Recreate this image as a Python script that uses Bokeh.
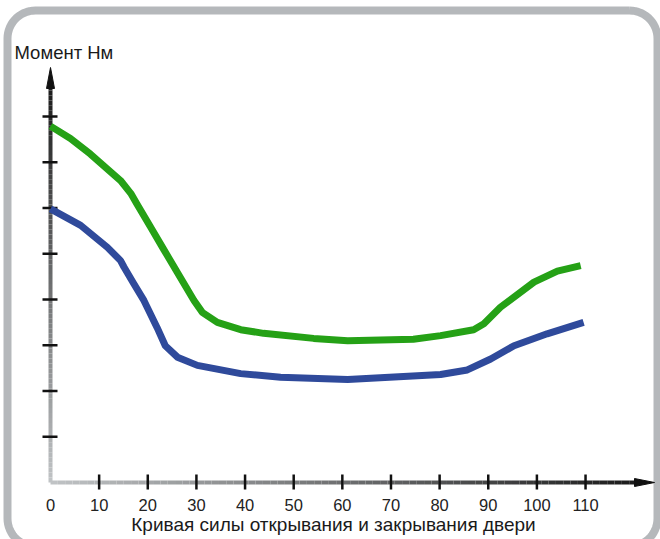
import numpy as np
from bokeh.plotting import figure
from bokeh.models import Range1d
from bokeh.embed import file_html
from bokeh.resources import INLINE
from bokeh.core.properties import value

# ---------------- data ----------------
opening_angle = [0, 4.1, 8.2, 14.4, 16.5, 17.8, 20.6, 23.3, 29.5, 31.2, 34.3, 39.1,
                 43.8, 54.1, 61.1, 74.6, 80.2, 87.0, 89.1, 92.5, 99.4, 104.2, 109.0]
opening_moment = [7.79, 7.52, 7.18, 6.60, 6.32, 6.08, 5.58, 5.09, 3.98, 3.72, 3.50, 3.34,
                  3.26, 3.15, 3.10, 3.13, 3.21, 3.34, 3.47, 3.83, 4.38, 4.62, 4.74]

closing_angle = [0, 6.2, 11.7, 14.4, 15.1, 17.1, 19.2, 21.9, 23.6, 26.1, 30.2, 39.1,
                 47.3, 61.1, 80.2, 85.7, 90.5, 95.3, 102.1, 109.6]
closing_moment = [5.98, 5.62, 5.14, 4.85, 4.71, 4.35, 3.98, 3.39, 2.99, 2.74, 2.56, 2.38,
                  2.30, 2.25, 2.36, 2.46, 2.70, 2.99, 3.25, 3.50]

x_ticks = [10, 20, 30, 40, 50, 60, 70, 80, 90, 100, 110]
x_tick_labels = ["0", "10", "20", "30", "40", "50", "60", "70", "80", "90", "100", "110"]
y_ticks = [1, 2, 3, 4, 5, 6, 7, 8]

y_title = "Момент Нм"
x_title = "Кривая силы открывания и закрывания двери"

# ---------------- layout (pixel geometry of the picture) ----------------
W, H = 660, 539
X0, SX = 50.0, 4.864   # picture x of angle 0, px per unit angle
Y0, SY = 482.0, 45.75  # picture y of moment 0, px per unit moment


def dx(ix):
    return (np.asarray(ix, dtype=float) - X0) / SX


def dy(iy):
    return (Y0 - np.asarray(iy, dtype=float)) / SY


p = figure(width=W, height=H, output_backend="svg", toolbar_location=None,
           x_range=Range1d(float(dx(0)), float(dx(W))),
           y_range=Range1d(float(dy(H)), float(dy(0))),
           x_axis_type=None, y_axis_type=None, min_border=0,
           background_fill_color="white", border_fill_color="white",
           outline_line_color=None)
p.grid.visible = False

# ---------------- rounded frame ----------------
L, T, R, B, r = 7.0, 10.0, 657.0, 546.0, 28.0
pts = []
corners = [((R - r, T + r), -90, 0), ((R - r, B - r), 0, 90),
           ((L + r, B - r), 90, 180), ((L + r, T + r), 180, 270)]
for (cx, cy), a0, a1 in corners:
    for a in np.linspace(np.radians(a0), np.radians(a1), 16):
        pts.append((cx + r * np.cos(a), cy + r * np.sin(a)))
pts.append(pts[0])
fx = dx([q[0] for q in pts])
fy = dy([q[1] for q in pts])
p.line(fx, fy, line_width=8, line_color="#b5b8bb", line_join="round")

# ---------------- gradient axes ----------------
light = np.array([192, 195, 197])
dark = np.array([28, 28, 28])


def grad(n):
    out = []
    for t in np.linspace(0, 1, n):
        c = (light * (1 - t) + dark * t).astype(int)
        out.append("#%02x%02x%02x" % tuple(c))
    return out

n = 80
x_end = float(dx(636))
xs = np.linspace(0, x_end, n + 1)
p.segment(x0=xs[:-1], y0=np.zeros(n), x1=xs[1:], y1=np.zeros(n),
          line_color=grad(n), line_width=4)
y_end = float(dy(85))
ys = np.linspace(0, y_end, n + 1)
p.segment(x0=np.zeros(n), y0=ys[:-1], x1=np.zeros(n), y1=ys[1:],
          line_color=grad(n), line_width=4)

# arrow heads
hx = 4.0 / SX
hy = 4.0 / SY
p.patches(xs=[[float(dx(634)), float(dx(654)), float(dx(634))],
              [-hx, 0, hx]],
          ys=[[-hy, 0, hy],
              [float(dy(88)), float(dy(67)), float(dy(88))]],
          fill_color="#111111", line_color="#111111", line_width=1)

# ticks
p.segment(x0=x_ticks, y0=[float(dy(489))] * len(x_ticks),
          x1=x_ticks, y1=[float(dy(474))] * len(x_ticks),
          line_color="#111111", line_width=2.5)
p.segment(x0=[float(dx(42))] * len(y_ticks), y0=y_ticks,
          x1=[float(dx(57))] * len(y_ticks), y1=y_ticks,
          line_color="#111111", line_width=2.5)

# ---------------- curves ----------------
p.line(opening_angle, opening_moment, line_color="#25a116", line_width=7,
       line_join="round")
p.line(closing_angle, closing_moment, line_color="#2f4a9b", line_width=7,
       line_join="round")

# ---------------- texts ----------------
FONT = value("Liberation Sans")
p.text(x=[0] + x_ticks, y=[float(dy(504))] * len(x_tick_labels), text=x_tick_labels,
       text_font=FONT, text_font_size="16.5px", text_align="center",
       text_baseline="middle", text_color="#222222")
p.text(x=[float(dx(333))], y=[float(dy(524))], text=[x_title],
       text_font=FONT, text_font_size="19px", text_align="center",
       text_baseline="middle", text_color="#1a1a1a")
p.text(x=[float(dx(14))], y=[float(dy(52))], text=[y_title],
       text_font=FONT, text_font_size="18.5px", text_align="left",
       text_baseline="middle", text_color="#1a1a1a")

open("out.html", "w").write(file_html(p, INLINE))
